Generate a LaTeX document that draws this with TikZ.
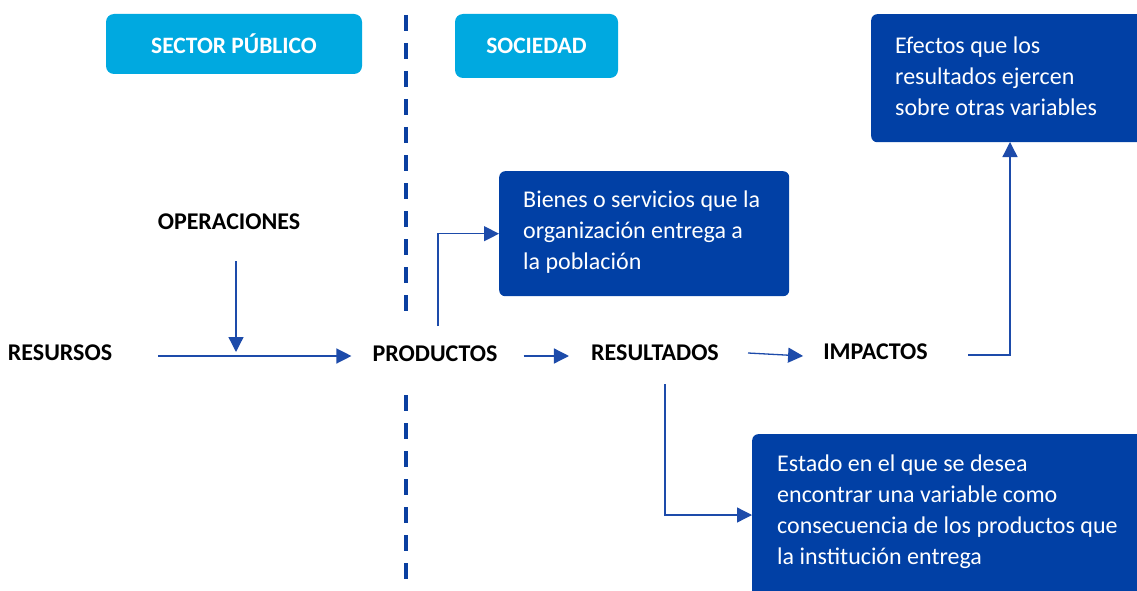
\documentclass[tikz,border=0pt]{standalone}
\usepackage{fontspec}
\setmainfont{Carlito}
\usetikzlibrary{arrows.meta}
\definecolor{cyanbox}{HTML}{00A9E0}
\definecolor{navybox}{HTML}{0140A5}
\definecolor{arrowblue}{HTML}{1D4BAA}
\definecolor{dashblue}{HTML}{0A3FA0}
\tikzset{
  hdr/.style={fill=cyanbox, rounded corners=8pt, text=white, font=\fontsize{23.5}{27}\selectfont\bfseries, inner sep=0pt},
  lbl/.style={font=\fontsize{24}{28}\selectfont\bfseries, inner sep=0pt},
  dbox/.style={fill=navybox, rounded corners=6pt, inner sep=0pt},
  btext/.style={text=white, font=\fontsize{24}{31}\selectfont, align=left, inner sep=0pt},
  conn/.style={draw=arrowblue, line width=1.3pt, -{Triangle[length=15pt,width=15pt]}},
  divider/.style={draw=dashblue, line width=3.5pt, dash pattern=on 16pt off 12pt}
}
\begin{document}
\begin{tikzpicture}[x=1pt,y=-1pt]
\useasboundingbox (0,0) rectangle (1137,591);
\clip (0,0) rectangle (1137,591);

% header boxes
\node[hdr, minimum width=256pt, minimum height=60pt] (sp) at (234,44) {SECTOR PÚBLICO};
\node[hdr, minimum width=163pt, minimum height=64pt] (soc) at (536.5,46) {SOCIEDAD};

% divider
\coordinate (d1) at (406,15);
\coordinate (d2) at (406,314);
\coordinate (d3) at (406,395);
\coordinate (d4) at (406,579);
\draw[divider] (d1) -- (d2);
\draw[divider] (d3) -- (d4);

% description boxes
\node[dbox, anchor=north west, minimum width=290pt, minimum height=125pt] (b1) at (499,171) {};
\node[btext, anchor=west] (t1) at (523,232) {Bienes o servicios que la\\organización entrega a\\la población};

\node[dbox, anchor=north west, minimum width=290pt, minimum height=128pt] (b3) at (871,14) {};
\node[btext, anchor=west] (t3) at (895,76) {Efectos que los\\resultados ejercen\\sobre otras variables};

\node[dbox, anchor=north west, minimum width=420pt, minimum height=200pt] (b2) at (752,434) {};
\node[btext, anchor=west] (t2) at (777,511.5) {Estado en el que se desea\\encontrar una variable como\\consecuencia de los productos que\\la institución entrega};

% labels
\node[lbl] (ope) at (229,222) {OPERACIONES};
\node[lbl] (rec) at (60,353) {RESURSOS};
\node[lbl] (pro) at (435,354) {PRODUCTOS};
\node[lbl] (res) at (655,353) {RESULTADOS};
\node[lbl] (imp) at (875.5,352) {IMPACTOS};

% connector end points
\coordinate (o1) at (236,261);
\coordinate (o2) at (236,352);
\coordinate (p1) at (438,326);
\coordinate (r1) at (665,384);
\coordinate (b2in) at (752,515);
\coordinate (i1) at (968,355);
\coordinate (b3in) at (1010,142);

% connectors
\draw[conn] ([xshift=46pt,yshift=-3pt]rec.east) -- ([xshift=-21pt,yshift=-2pt]pro.west);
\draw[conn] (o1) -- (o2);
\draw[conn] ([xshift=26pt,yshift=-2pt]pro.east) -- ([xshift=-22pt,yshift=-3pt]res.west);
\draw[conn] ([xshift=29pt]res.east) -- ([xshift=-20pt,yshift=-4pt]imp.west);
\draw[conn] (p1) |- (b1.west);
\draw[conn] (r1) |- (b2in);
\draw[conn] (i1) -| (b3in);
\end{tikzpicture}
\end{document}
